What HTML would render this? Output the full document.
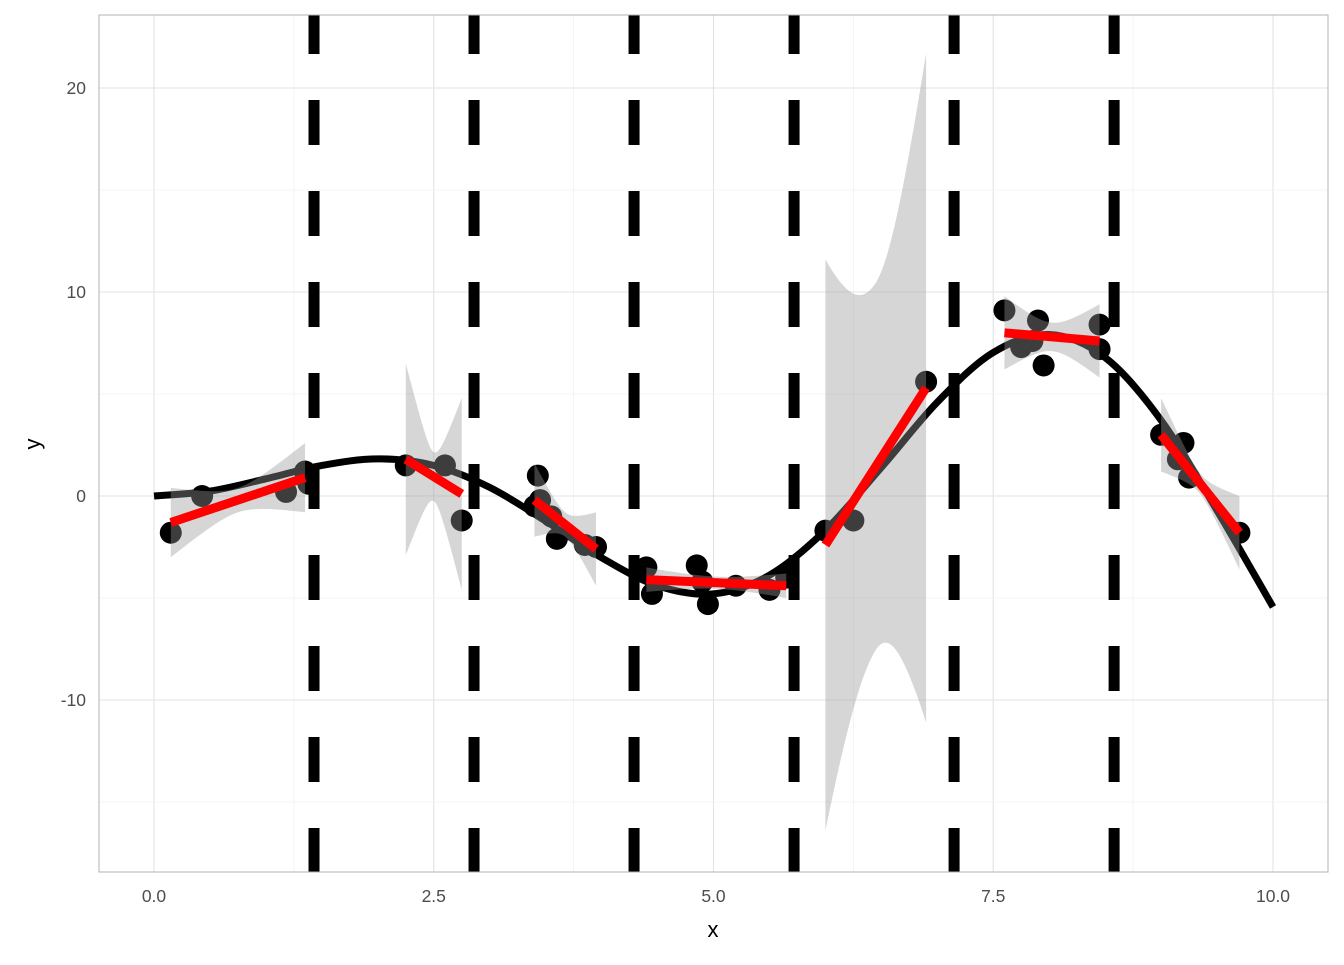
<!DOCTYPE html>
<html><head><meta charset="utf-8"><style>
body{margin:0;background:#fff;}
svg text{font-family:"Liberation Sans",sans-serif;}
</style></head><body>
<svg id="chart" width="1344" height="960" xmlns="http://www.w3.org/2000/svg">
<rect x="0" y="0" width="1344" height="960" fill="#fff"/>
<g id="grid"></g>
<g id="curve"></g>
<g id="pts"></g>
<g id="ribbons"></g>
<g id="vlines"></g>
<g id="fits"></g>
<rect x="99" y="15" width="1229" height="857" fill="none" stroke="#b3b3b3" stroke-width="1"/>
<g id="axes"></g>
<text x="713" y="937" text-anchor="middle" font-size="22" fill="#000">x</text>
<text x="40" y="444" text-anchor="middle" font-size="22" fill="#000" transform="rotate(-90 40 444)">y</text>
</svg>
<script>
const xTicks=[0,2.5,5,7.5,10];
const xTickLabels=["0.0","2.5","5.0","7.5","10.0"];
const yTicks=[-10,0,10,20];
const yTickLabels=["-10","0","10","20"];
const ptX=[0.15,0.43,1.18,1.35,1.38,2.25,2.6,2.75,3.4,3.43,3.45,3.55,3.6,3.85,3.95,4.4,4.45,4.85,4.9,4.95,5.2,5.5,5.65,6.0,6.25,6.9,7.6,7.75,7.85,7.9,7.95,8.45,8.45,9.0,9.2,9.15,9.25,9.7];
const ptY=[-1.8,0,0.2,1.2,0.6,1.5,1.5,-1.2,-0.5,1.0,-0.2,-1.0,-2.1,-2.4,-2.5,-3.5,-4.8,-3.4,-4.2,-5.3,-4.4,-4.6,-4.0,-1.7,-1.2,5.6,9.1,7.3,7.6,8.6,6.4,8.4,7.2,3.0,2.6,1.8,0.9,-1.8];
const curveX=[0,0.5,1,1.5,2,2.5,3,3.5,4,4.5,5,5.5,6,6.5,7,7.5,8,8.5,9,9.5,10];
const curveY=[0,0.24,0.841,1.496,1.819,1.496,0.423,-1.228,-3.027,-4.399,-4.795,-3.88,-1.676,1.398,4.599,7.035,7.915,6.787,3.709,-0.714,-5.44];
const breaks=[1.43,2.86,4.29,5.72,7.15,8.58];
const segX0=[0.15,2.25,3.4,4.4,6.0,7.6,9.0];
const segX1=[1.35,2.75,3.95,5.65,6.9,8.45,9.7];
const segY0=[-1.3,1.8,-0.2,-4.1,-2.4,8.0,3.0];
const segY1=[0.9,0.1,-2.6,-4.4,5.3,7.6,-1.8];
const segHwMid=[0.6,1.2,0.6,0.3,9,0.7,0.5];
const segHwStart=[1.7,4.7,1.8,0.6,14,1.8,1.8];
const segHwEnd=[1.7,4.7,1.8,0.6,16.4,1.8,1.8];

const X=v=>154+v*111.9, Y=v=>496-v*20.4;
const NS="http://www.w3.org/2000/svg";
function mk(tag,parent,attrs){const e=document.createElementNS(NS,tag);for(const k in attrs)e.setAttribute(k,attrs[k]);document.getElementById(parent).appendChild(e);return e;}

for(let i=0;i<xTicks.length;i++){
  const l=mk('line','grid',{x1:X(xTicks[i]),x2:X(xTicks[i]),y1:15,y2:872,stroke:'#e3e3e3','stroke-width':1.1});
  
  
  if(i<xTicks.length-1){const m=(xTicks[i]+xTicks[i+1])/2;
    const l2=mk('line','grid',{x1:X(m),x2:X(m),y1:15,y2:872,stroke:'#f0f0f0','stroke-width':0.8});
    
    }
  const t=mk('text','axes',{x:X(xTicks[i]),y:902,'text-anchor':'middle','font-size':17.5,fill:'#4d4d4d'});
  t.textContent=xTickLabels[i];
  
  
}
for(let i=0;i<yTicks.length;i++){
  const l=mk('line','grid',{x1:99,x2:1328,y1:Y(yTicks[i]),y2:Y(yTicks[i]),stroke:'#e3e3e3','stroke-width':1.1});
  
  
  const t=mk('text','axes',{x:86,y:Y(yTicks[i])+6,'text-anchor':'end','font-size':17.5,fill:'#4d4d4d'});
  t.textContent=yTickLabels[i];
  
  
}
for(const m of [-15,-5,5,15]){
  const l=mk('line','grid',{x1:99,x2:1328,y1:Y(m),y2:Y(m),stroke:'#f0f0f0','stroke-width':0.8});
  
  
}
{let d=`M${X(curveX[0])},${Y(curveY[0])}`;
 const P=curveX.map((x,i)=>[X(x),Y(curveY[i])]);
 for(let i=0;i<P.length-1;i++){const p0=P[Math.max(0,i-1)],p1=P[i],p2=P[i+1],p3=P[Math.min(P.length-1,i+2)];
  d+=` C${p1[0]+(p2[0]-p0[0])/6},${p1[1]+(p2[1]-p0[1])/6} ${p2[0]-(p3[0]-p1[0])/6},${p2[1]-(p3[1]-p1[1])/6} ${p2[0]},${p2[1]}`;}
 const c=mk('path','curve',{d:d,fill:'none',stroke:'#000','stroke-width':7});
 
 }
for(let i=0;i<ptX.length;i++){
  const c=mk('circle','pts',{cx:X(ptX[i]),cy:Y(ptY[i]),r:11,fill:'#000'});
  
  
}
for(let s=0;s<segX0.length;s++){
  const xc=(segX0[s]+segX1[s])/2, half=(segX1[s]-segX0[s])/2;
  const k0=(segHwStart[s]**2-segHwMid[s]**2)/(half*half);
  const k1=(segHwEnd[s]**2-segHwMid[s]**2)/(half*half);
  const up=[],lo=[];
  for(let j=0;j<=60;j++){const x=segX0[s]+(segX1[s]-segX0[s])*j/60;
    const yl=segY0[s]+(segY1[s]-segY0[s])*j/60;
    const k=x<xc?k0:k1;
    const hw=Math.sqrt(segHwMid[s]**2+k*(x-xc)**2);
    up.push(`${X(x)},${Y(yl+hw)}`);lo.unshift(`${X(x)},${Y(yl-hw)}`);}
  const r=mk('polygon','ribbons',{points:up.concat(lo).join(' '),fill:'#999','fill-opacity':0.4});
  
  
  const l=mk('line','fits',{x1:X(segX0[s]),y1:Y(segY0[s]),x2:X(segX1[s]),y2:Y(segY1[s]),stroke:'#ff0000','stroke-width':9});
  
  
}
for(const b of breaks){
  const l=mk('line','vlines',{x1:X(b),x2:X(b),y1:15,y2:872,stroke:'#000','stroke-width':11,'stroke-dasharray':'45 46','stroke-dashoffset':6});
  
  
}
</script>
</body></html>
